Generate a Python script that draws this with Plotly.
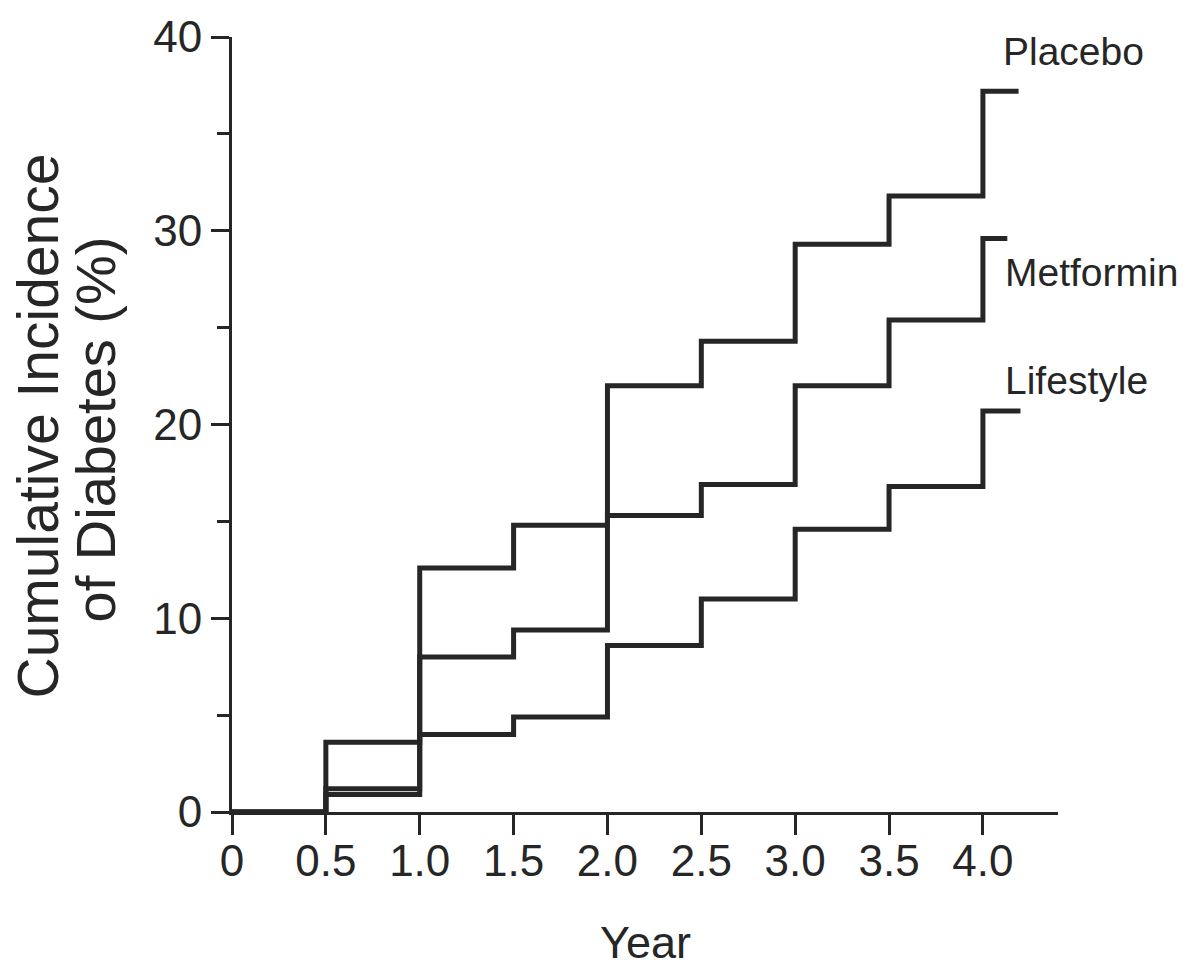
import plotly.graph_objects as go

# ---- data ----
years = [0, 0.5, 1.0, 1.5, 2.0, 2.5, 3.0, 3.5, 4.0]
placebo = [0, 3.6, 12.6, 14.8, 22.0, 24.3, 29.3, 31.8, 37.2]
metformin = [0, 1.2, 8.0, 9.4, 15.3, 16.9, 22.0, 25.4, 29.6]
lifestyle = [0, 0.9, 4.0, 4.9, 8.6, 11.0, 14.6, 16.8, 20.7]
series_names = ["Placebo", "Metformin", "Lifestyle"]
series_end_year = [4.19, 4.13, 4.2]

x_tickvals = [0, 0.5, 1.0, 1.5, 2.0, 2.5, 3.0, 3.5, 4.0]
x_ticktext = ["0", "0.5", "1.0", "1.5", "2.0", "2.5", "3.0", "3.5", "4.0"]
y_tickvals = [0, 10, 20, 30, 40]
y_ticktext = ["0", "10", "20", "30", "40"]

INK = "#262626"
FONT = "Liberation Sans, Arial, Helvetica, sans-serif"

fig = go.Figure()

all_series = [placebo, metformin, lifestyle]
label_offsets = [(18, 40), (20, -34), (20, 30)]  # px offsets of labels from series end

for name, vals, end in zip(series_names, all_series, series_end_year):
    xs = years + [end]
    ys = vals + [vals[-1]]
    fig.add_trace(go.Scatter(
        x=xs, y=ys, mode="lines", name=name,
        line=dict(shape="hv", color=INK, width=5),
        cliponaxis=False, showlegend=False, hoverinfo="skip",
    ))

for name, vals, (dx, dy) in zip(series_names, all_series, label_offsets):
    fig.add_annotation(
        x=years[-1], y=vals[-1], xref="x", yref="y",
        text=name, showarrow=False, xanchor="left", yanchor="middle",
        xshift=dx, yshift=dy,
        font=dict(family=FONT, size=39, color=INK),
    )

# y-axis title (two lines, rotated)
fig.add_annotation(
    x=0, y=0.5, xref="paper", yref="paper",
    text="Cumulative Incidence", showarrow=False, textangle=-90,
    xanchor="center", yanchor="middle", xshift=-195, yshift=-2,
    font=dict(family=FONT, size=57, color=INK),
)
fig.add_annotation(
    x=0, y=0.5, xref="paper", yref="paper",
    text="of Diabetes (%)", showarrow=False, textangle=-90,
    xanchor="center", yanchor="middle", xshift=-137, yshift=-5,
    font=dict(family=FONT, size=56, color=INK),
)
# x-axis title
fig.add_annotation(
    x=0.5, y=0, xref="paper", yref="paper",
    text="Year", showarrow=False,
    xanchor="center", yanchor="middle", xshift=0, yshift=-130,
    font=dict(family=FONT, size=45, color=INK),
)

fig.update_layout(
    width=1190, height=967,
    margin=dict(l=232, r=132, t=30, b=155),
    paper_bgcolor="white", plot_bgcolor="white",
    font=dict(family=FONT, color=INK),
    xaxis=dict(
        range=[0, 4.4], showgrid=False, zeroline=False,
        showline=True, linecolor=INK, linewidth=3,
        ticks="outside", ticklen=20, tickwidth=3, tickcolor=INK,
        tickvals=x_tickvals, ticktext=x_ticktext,
        tickfont=dict(family=FONT, size=44, color=INK),
        ticklabelstandoff=-12,
    ),
    yaxis=dict(
        range=[0, 40], showgrid=False, zeroline=False,
        showline=True, linecolor=INK, linewidth=3,
        ticks="outside", ticklen=18, tickwidth=3, tickcolor=INK,
        tickvals=y_tickvals, ticktext=y_ticktext,
        tickfont=dict(family=FONT, size=44, color=INK),
        minor=dict(dtick=5, ticks="outside", ticklen=12, tickwidth=3, tickcolor=INK),
    ),
)

fig.write_html("out.html")
